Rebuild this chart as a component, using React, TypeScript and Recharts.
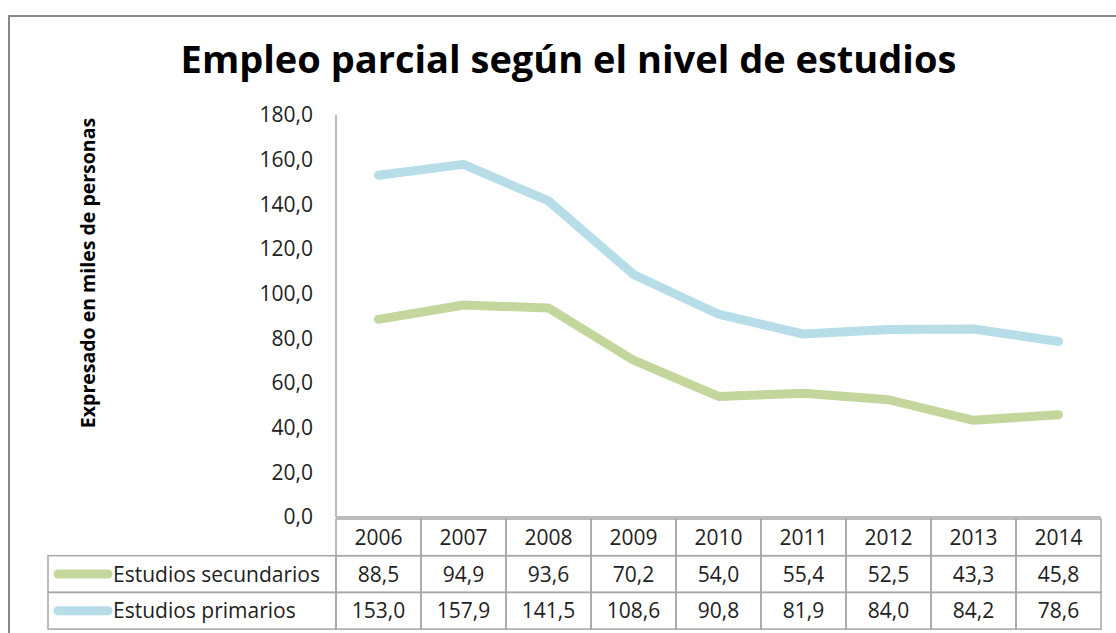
import { Label, Line, LineChart, XAxis, YAxis } from "recharts"

const years = ["2006", "2007", "2008", "2009", "2010", "2011", "2012", "2013", "2014"]
const secundarios = [88.5, 94.9, 93.6, 70.2, 54.0, 55.4, 52.5, 43.3, 45.8]
const primarios = [153.0, 157.9, 141.5, 108.6, 90.8, 81.9, 84.0, 84.2, 78.6]
const yTicks = [0, 20, 40, 60, 80, 100, 120, 140, 160, 180]

const seriesNames = ["Estudios secundarios", "Estudios primarios"]
const GREEN = "#c3d69b"
const BLUE = "#b7dee8"
const GRID = "#a6a6a6"
const FONT = "'Open Sans', sans-serif"

const data = years.map((y, i) => ({ year: y, sec: secundarios[i], pri: primarios[i] }))

const fmt = (v: number) => v.toFixed(1).replace(".", ",")

// each x tick draws one column of the data table under the plot
function TableTick(props: any) {
  const { x, y, payload, index } = props
  const colW = 85
  const left = x - colW / 2
  const top = y + 2
  const rowH = 36.7
  const rows = [payload.value, fmt(secundarios[index]), fmt(primarios[index])]
  return (
    <g>
      {rows.map((t, r) => (
        <g key={r}>
          <rect x={left} y={top + r * rowH} width={colW} height={rowH} fill="none" stroke={GRID} strokeWidth={1.5} />
          <text x={x} y={top + r * rowH + rowH / 2 + 7.5} textAnchor="middle" fontFamily={FONT} fontSize={21} fill="#222">
            {t}
          </text>
        </g>
      ))}
      {index === 0 &&
        seriesNames.map((name, r) => (
          <g key={name}>
            <rect x={48} y={top + (r + 1) * rowH} width={left - 48} height={rowH} fill="none" stroke={GRID} strokeWidth={1.5} />
            <line x1={58} x2={108} y1={top + (r + 1.5) * rowH} y2={top + (r + 1.5) * rowH} stroke={r === 0 ? GREEN : BLUE} strokeWidth={9} strokeLinecap="round" />
            <text x={113} y={top + (r + 1.5) * rowH + 7.5} fontFamily={FONT} fontSize={21} fill="#222">
              {name}
            </text>
          </g>
        ))}
    </g>
  )
}

export default function App() {
  return (
    <div style={{ position: "absolute", left: 0, top: 0, width: 1116, height: 633, overflow: "hidden", background: "#fff" }}>
      <div style={{ position: "absolute", left: 8, top: 15, width: 1200, height: 700, border: "2px solid #878787" }} />
      <div
        style={{
          position: "absolute",
          left: 0,
          width: 1137,
          top: 32,
          textAlign: "center",
          fontFamily: FONT,
          fontWeight: 700,
          fontSize: 38,
          lineHeight: "52px",
          color: "#000",
        }}
      >
        Empleo parcial según el nivel de estudios
      </div>
      <div style={{ position: "absolute", left: 0, top: 0 }}>
        <LineChart width={1116} height={633} data={data} margin={{ top: 115, right: 15, bottom: 0, left: 0 }}>
          <XAxis
            dataKey="year"
            scale="band"
            height={116}
            tickLine={false}
            tickSize={0}
            tickMargin={0}
            axisLine={{ stroke: GRID, strokeWidth: 1.5 }}
            tick={<TableTick />}
            interval={0}
          />
          <YAxis
            width={336}
            domain={[0, 180]}
            ticks={yTicks}
            tickFormatter={fmt}
            tickLine={false}
            tickSize={0}
            tickMargin={23}
            axisLine={{ stroke: GRID, strokeWidth: 1.5 }}
            tick={{ fill: "#222", fontFamily: FONT, fontSize: 21 }}
          >
            <Label
              content={() => (
                <text
                  transform="translate(95,273) rotate(-90)"
                  textAnchor="middle"
                  fontFamily={FONT}
                  fontWeight={700}
                  fontSize={19.5}
                  fill="#000"
                >
                  Expresado en miles de personas
                </text>
              )}
            />
          </YAxis>
          <Line dataKey="sec" stroke={GREEN} strokeWidth={9} dot={false} isAnimationActive={false} strokeLinecap="round" strokeLinejoin="round" />
          <Line dataKey="pri" stroke={BLUE} strokeWidth={9} dot={false} isAnimationActive={false} strokeLinecap="round" strokeLinejoin="round" />
        </LineChart>
      </div>
    </div>
  )
}
